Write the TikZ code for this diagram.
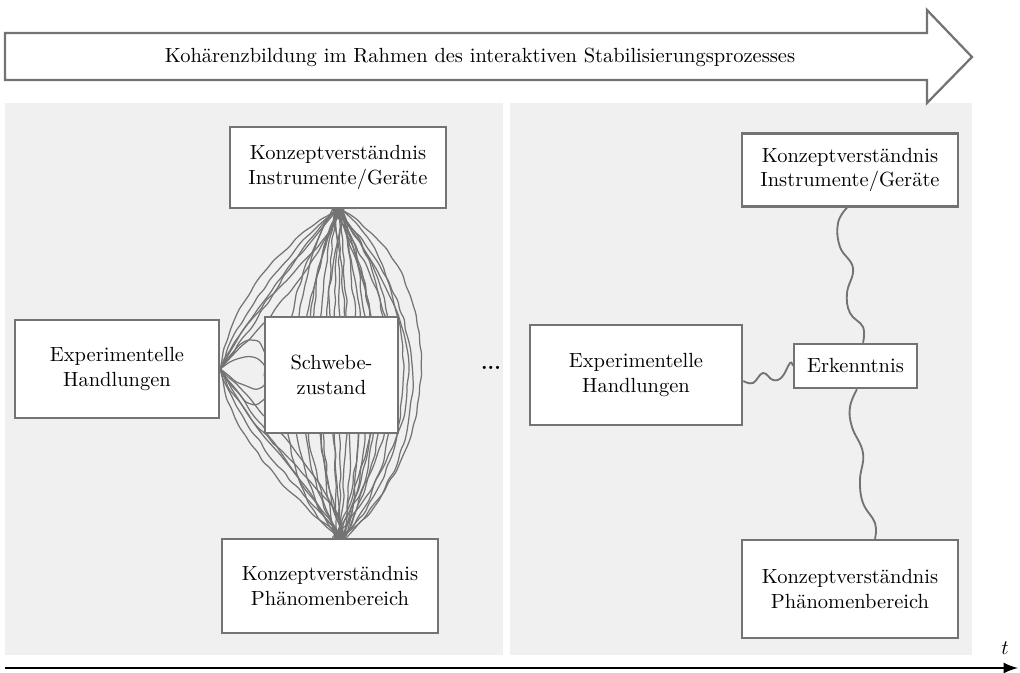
\documentclass[tikz,border=0pt]{standalone}
\usepackage{tikz}
\usetikzlibrary{arrows}
\usetikzlibrary{positioning, calc, backgrounds, decorations.pathmorphing}
\usepackage{xcolor}
\usepackage{amsmath}

\definecolor{panelgray}{gray}{0.94}
\definecolor{linegray}{gray}{0.45}

\begin{document}
\begin{tikzpicture}[x=0.488pt, y=-0.488pt,
        box/.style={draw=linegray, fill=white, line width=1.2pt, align=center, inner sep=0pt},
        strand/.style={linegray, line width=0.6pt, decorate, decoration={random steps, segment length=5pt, amplitude=0.6pt}, rounded corners=1.5pt},
        wavy/.style={linegray, line width=0.9pt}]
        \useasboundingbox (0, 0) rectangle (1020, 673);

        % arrow on top
        \draw[linegray, fill=white, line width=1.1pt] (5, 33) -- (927, 33) -- (927, 10) -- (972, 57) -- (927, 103) -- (927, 80) -- (5, 80) -- cycle;
        \node (title) at (480, 57) {Kohärenzbildung im Rahmen des interaktiven Stabilisierungsprozesses};

        % left panel
        \node[box, minimum width=105.4pt, minimum height=39.5pt] (instrL) at (338, 167.5) {Konzeptverständnis\\Instrumente/Geräte};
        \node[box, minimum width=99.6pt, minimum height=47.8pt] (handL) at (117, 369) {Experimentelle\\Handlungen};
        \node[box, minimum width=64.9pt, minimum height=56.6pt] (schwebe) at (331.5, 375) {Schwebe-\\zustand};
        \node[box, minimum width=105.4pt, minimum height=45.9pt] (phaenL) at (330, 586) {Konzeptverständnis\\Phänomenbereich};

        \node (dots) at (491, 368) {\textbf{...}};

        % right panel
        \node[box, minimum width=105.4pt, minimum height=35.6pt] (instrR) at (850, 170) {Konzeptverständnis\\Instrumente/Geräte};
        \node[box, minimum width=103.5pt, minimum height=48.8pt] (handR) at (636, 375) {Experimentelle\\Handlungen};
        \node[box, minimum width=60pt, minimum height=21.5pt] (erk) at (855.5, 366) {Erkenntnis};
        \node[box, minimum width=105.4pt, minimum height=47.8pt] (phaenR) at (850, 589) {Konzeptverständnis\\Phänomenbereich};

        % time axis
        \coordinate (t0) at (5, 668);
        \coordinate (t1) at (1018, 668);
        \draw[-latex, line width=1.4pt] (t0) -- (t1);
        \node (t) at (1005, 648) {$t$};

        \begin{pgfonlayer}{background}
            \fill[panelgray] (5, 103) rectangle (503, 655);
            \fill[panelgray] (510, 103) rectangle (972, 655);

            \pgfmathsetseed{4}
            \foreach \c in {268,280,...,448} {
                \pgfmathsetmacro{\ja}{7*rand}
                \pgfmathsetmacro{\jb}{14*rand}
                \pgfmathsetmacro{\jc}{12*rand}
                \draw[strand] ([shift={(\ja,0)}]instrL.south) .. controls ({\c+\jb}, {285+\jc}) and ({\c-\jb}, {465-\jc}) .. ([shift={(12+\jc/3,0)}]phaenL.north);
            }
            \foreach \c in {300,316,...,430} {
                \pgfmathsetmacro{\ja}{6*rand}
                \pgfmathsetmacro{\jb}{10*rand}
                \draw[strand] ([shift={(\ja,0)}]instrL.south) .. controls ({\c+\jb}, 330) and ({\c+\jb}, 420) .. ([shift={(8+\ja,0)}]phaenL.north);
            }
            \foreach \a/\b in {230/285, 245/300, 260/310, 275/300, 290/330, 250/340} {
                \draw[strand] (handL.east) .. controls (\a, 300) and (\b, 240) .. (instrL.south);
                \draw[strand] (handL.east) .. controls (\a, 440) and ({\b+10}, 500) .. ([shift={(12,0)}]phaenL.north);
            }
            \foreach \y in {330,350,390,410} {
                \draw[strand] (handL.east) .. controls (245, \y) and (265, {\y+5}) .. (schwebe.west);
            }

            \draw[wavy] plot[smooth, tension=0.7] coordinates {([shift={(-3,0)}]instrR.south) (838,223) (840,247) (853,268) (847,293) (850,313) (863,327) ([shift={(7.5,0)}]erk.north)};
            \draw[wavy] plot[smooth, tension=0.7] coordinates {([shift={(1.5,0)}]erk.south) (850,407) (852,427) (863,453) (860,480) (863,503) (875,523) ([shift={(25,0)}]phaenR.north)};
            \draw[wavy] plot[smooth, tension=0.7] coordinates {([shift={(0,6)}]handR.east) (753,383) (763,373) (773,380) (782,377) (790,363) (erk.west)};
        \end{pgfonlayer}
      \end{tikzpicture}
\end{document}
